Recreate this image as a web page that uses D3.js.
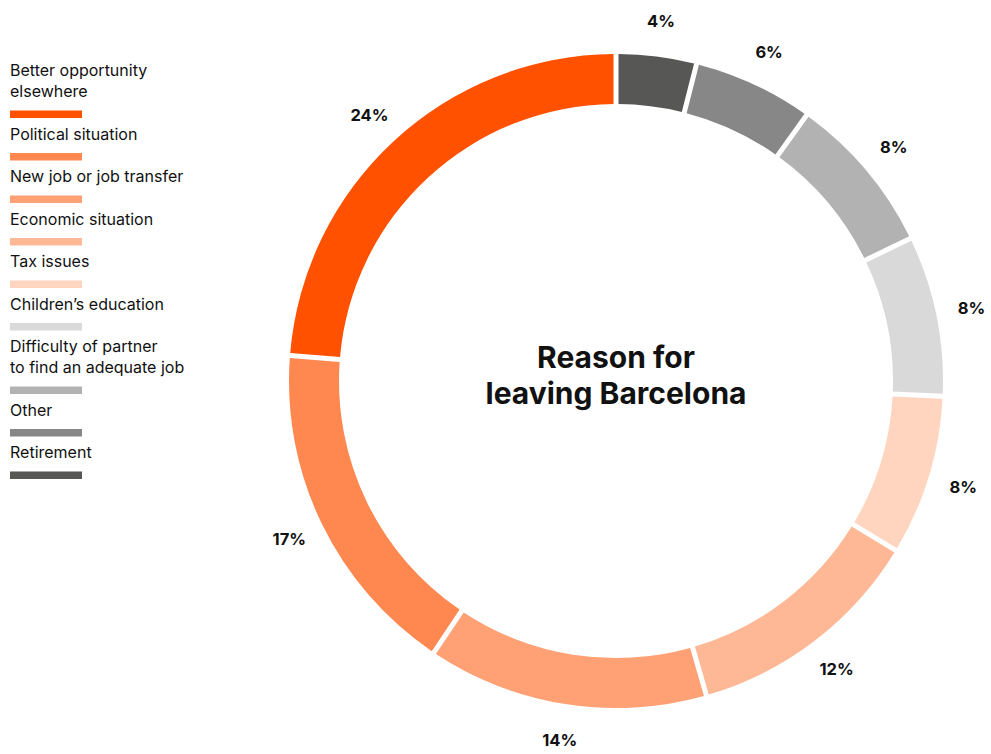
<!DOCTYPE html>
<html>
<head>
<meta charset="utf-8">
<script src="https://cdn.jsdelivr.net/npm/d3@7"></script>
<style>
  html, body { margin: 0; padding: 0; background: #fff; }
  svg { display: block; font-family: Inter, "Noto Sans", sans-serif; }
</style>
</head>
<body>
<svg id="chart" width="991" height="754"></svg>
<script>
// Reasons, in legend order (top to bottom)
const categories = [
  ["Better opportunity", "elsewhere"],
  ["Political situation"],
  ["New job or job transfer"],
  ["Economic situation"],
  ["Tax issues"],
  ["Children\u2019s education"],
  ["Difficulty of partner", "to find an adequate job"],
  ["Other"],
  ["Retirement"]
];
// Share of respondents, percent
const values = [24, 17, 14, 12, 8, 8, 8, 6, 4];
const colors = ["#ff5100", "#ff8850", "#ffa175", "#ffb896", "#ffd5c0",
                "#d9d9d9", "#b2b2b2", "#878787", "#575756"];
const titleLines = ["Reason for", "leaving Barcelona"];

const svg = d3.select("#chart");
const cx = 616, cy = 381, rOuter = 327, rInner = 277, rLabel = 363;

// Ring runs clockwise from 12 o'clock, starting with the last legend entry
const items = categories.map((c, i) => ({ label: c, value: values[i], color: colors[i] }));
const ringOrder = items.slice().reverse();

const pie = d3.pie().sort(null).value(d => d.value);
const arc = d3.arc().innerRadius(rInner).outerRadius(rOuter)
  .padRadius(300).padAngle(5 / 300);

const g = svg.append("g").attr("transform", `translate(${cx},${cy})`);
const arcs = pie(ringOrder);

g.selectAll("path.slice").data(arcs).join("path")
  .attr("class", "slice")
  .attr("d", arc)
  .attr("fill", d => d.data.color);

// Percentage labels outside the ring
const labelArc = d3.arc().innerRadius(rLabel).outerRadius(rLabel);
g.selectAll("text.pct").data(arcs).join("text")
  .attr("class", "pct")
  .attr("transform", d => `translate(${labelArc.centroid(d)})`)
  .attr("text-anchor", "middle")
  .attr("dominant-baseline", "central")
  .attr("font-size", 16.5)
  .attr("font-weight", 700)
  .attr("fill", "#111")
  .text(d => d.data.value + "%");

// Centre title, one text element per line
g.selectAll("text.title").data(titleLines).join("text")
  .attr("class", "title")
  .attr("text-anchor", "middle")
  .attr("font-size", 30)
  .attr("font-weight", 700)
  .attr("fill", "#111")
  .attr("x", 0)
  .attr("y", (d, i) => -13 + i * 36)
  .text(d => d);

// Legend: label lines with a colour bar underneath
const legend = svg.append("g").attr("transform", "translate(10,0)");
let y = 76;
items.forEach(it => {
  const grp = legend.append("g");
  it.label.forEach((line, j) => {
    grp.append("text")
      .attr("x", 0)
      .attr("y", y + j * 21)
      .attr("font-size", 16)
      .attr("fill", "#111")
      .text(line);
  });
  const lastBase = y + (it.label.length - 1) * 21;
  grp.append("rect")
    .attr("x", 0)
    .attr("y", lastBase + 13.5)
    .attr("width", 72)
    .attr("height", 7.5)
    .attr("fill", it.color);
  y = lastBase + 13.5 + 29;
});
</script>
</body>
</html>
